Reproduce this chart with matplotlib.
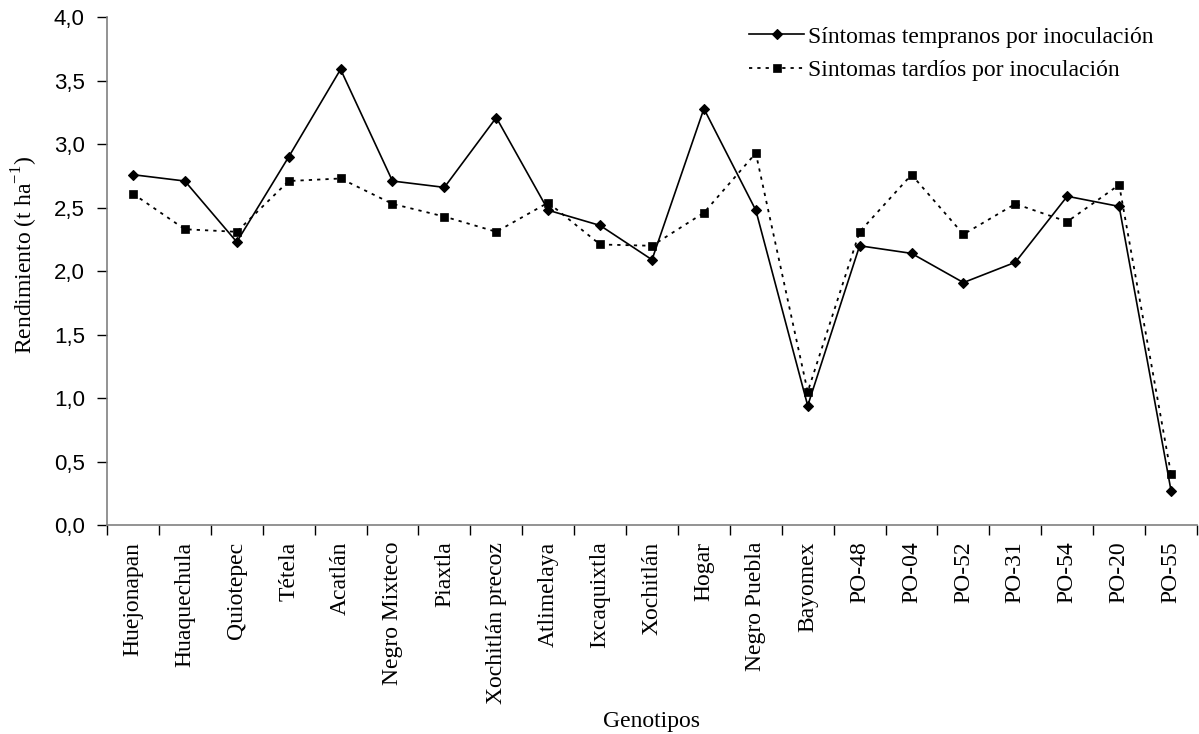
import matplotlib
matplotlib.use("Agg")
import matplotlib.pyplot as plt
from matplotlib.ticker import FixedLocator, FuncFormatter

genotipos = ["Huejonapan", "Huaquechula", "Quiotepec", "Tétela", "Acatlán",
             "Negro Mixteco", "Piaxtla", "Xochitlán precoz", "Atlimelaya",
             "Ixcaquixtla", "Xochitlán", "Hogar", "Negro Puebla", "Bayomex",
             "PO-48", "PO-04", "PO-52", "PO-31", "PO-54", "PO-20", "PO-55"]
tempranos = [2.76, 2.71, 2.23, 2.90, 3.59, 2.71, 2.66, 3.21, 2.48, 2.36, 2.09,
             3.28, 2.48, 0.94, 2.20, 2.14, 1.91, 2.07, 2.59, 2.51, 0.27]
tardios = [2.61, 2.33, 2.31, 2.71, 2.73, 2.53, 2.43, 2.31, 2.54, 2.21, 2.20,
           2.46, 2.93, 1.05, 2.31, 2.76, 2.29, 2.53, 2.39, 2.68, 0.40]
y_ticks = [0.0, 0.5, 1.0, 1.5, 2.0, 2.5, 3.0, 3.5, 4.0]
label_early = "Síntomas tempranos por inoculación"
label_late = "Sintomas tardíos por inoculación"

plt.rcParams['mathtext.fontset'] = 'custom'
plt.rcParams['mathtext.rm'] = 'Liberation Serif'

W, H = 1199, 734
fig = plt.figure(figsize=(W / 100, H / 100), dpi=100)
ax = fig.add_axes([107 / W, 1 - 525 / H, (1197 - 107) / W, (525 - 17.3) / H])

x = list(range(len(genotipos)))
ax.plot(x, tempranos, color='black', lw=1.2, marker='D', ms=5.2, mew=0.8,
        label=label_early, zorder=3)
ax.plot(x, tardios, color='black', lw=1.3, ls=(0, (1.8, 2.8)), marker='s',
        ms=5.4, mew=0.5, label=label_late, zorder=2)

ax.set_xlim(-0.5, len(genotipos) - 0.5)
ax.set_ylim(0, 4)
ax.yaxis.set_major_locator(FixedLocator(y_ticks))
ax.yaxis.set_major_formatter(FuncFormatter(lambda v, p: f"{v:.1f}".replace('.', ',')))

ax.xaxis.set_major_locator(FixedLocator([i - 0.5 for i in range(len(genotipos) + 1)]))
ax.xaxis.set_major_formatter(FuncFormatter(lambda v, p: ""))
ax.set_xticks(x, minor=True)
ax.set_xticklabels(genotipos, minor=True, rotation=90, family='Liberation Serif',
                   fontsize=17, va='top', ha='center')
ax.tick_params(axis='x', which='minor', length=0, pad=12)
ax.tick_params(axis='x', which='major', length=7, width=1, color='black', direction='out')
ax.tick_params(axis='y', which='major', length=7, width=1, color='black', direction='out',
               pad=9)
for lab in ax.get_yticklabels():
    lab.set_family('Liberation Sans')
    lab.set_fontsize(16)

for s in ['top', 'right']:
    ax.spines[s].set_visible(False)
for s in ['left', 'bottom']:
    ax.spines[s].set_color('#808080')
    ax.spines[s].set_linewidth(1.2)

fig.text(25 / W, 1 - 255 / H, r'Rendimiento (t ha$^{\mathregular{-1}}$)',
         rotation=90, ha='center', va='center', family='Liberation Serif', fontsize=17)
fig.text(652 / W, 1 - 722 / H, 'Genotipos', ha='center', va='center',
         family='Liberation Serif', fontsize=17)

leg = ax.legend(loc='upper left', bbox_to_anchor=(749 / W, 1 - 26 / H),
                bbox_transform=fig.transFigure, frameon=False,
                prop={'family': 'Liberation Serif', 'size': 17},
                handlelength=2.35, handletextpad=0.15, labelspacing=0.5,
                borderpad=0, borderaxespad=0, numpoints=1)

fig.savefig('out.png', dpi=100)
